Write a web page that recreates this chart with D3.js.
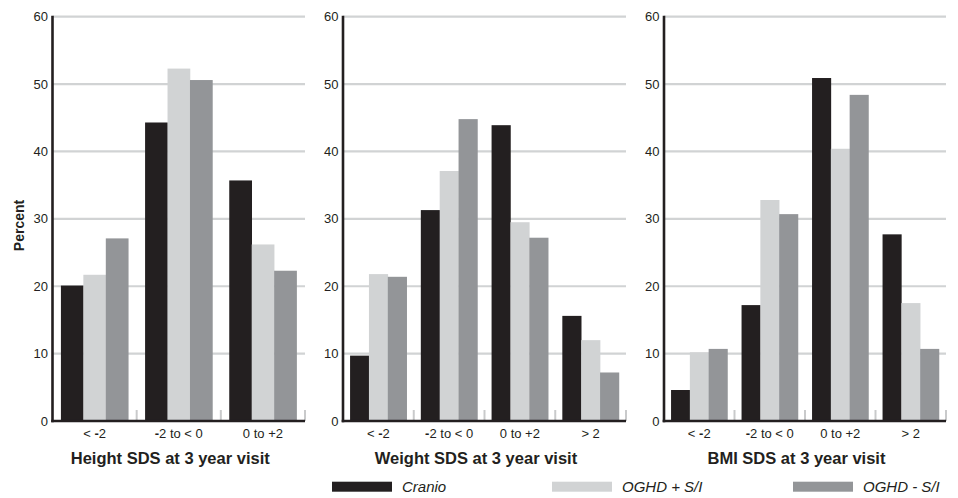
<!DOCTYPE html>
<html>
<head>
<meta charset="utf-8">
<script src="https://cdn.jsdelivr.net/npm/d3@7"></script>
<style>
  html, body { margin: 0; padding: 0; background: #fff; }
  svg { display: block; font-family: "Liberation Sans", Arial, Helvetica, sans-serif; }
</style>
</head>
<body>
<svg id="chart" width="958" height="498"></svg>
<script>
// ---------------- data ----------------
const seriesNames = ["Cranio", "OGHD + S/I", "OGHD - S/I"];

const heightCategories = ["< -2", "-2 to < 0", "0 to +2"];
const heightCranio = [20.1, 44.3, 35.7];
const heightOGHDplus = [21.7, 52.3, 26.2];
const heightOGHDminus = [27.1, 50.6, 22.3];

const weightCategories = ["< -2", "-2 to < 0", "0 to +2", "> 2"];
const weightCranio = [9.7, 31.3, 43.9, 15.6];
const weightOGHDplus = [21.8, 37.1, 29.5, 12.0];
const weightOGHDminus = [21.4, 44.8, 27.2, 7.2];

const bmiCategories = ["< -2", "-2 to < 0", "0 to +2", "> 2"];
const bmiCranio = [4.6, 17.2, 50.9, 27.7];
const bmiOGHDplus = [10.2, 32.8, 40.4, 17.5];
const bmiOGHDminus = [10.7, 30.7, 48.4, 10.7];

const panelTitles = ["Height SDS at 3 year visit", "Weight SDS at 3 year visit", "BMI SDS at 3 year visit"];
const yTickValues = [0, 10, 20, 30, 40, 50, 60];
const yAxisTitle = "Percent";

// ---------------- layout / style ----------------
const colors = ["#231f20", "#d1d3d4", "#939598"];
const gridColor = "#d1d3d4";
const axisColor = "#231f20";
const textColor = "#231f20";

const panelsLayout = [
  { left: 52.5, right: 305 },
  { left: 343, right: 626 },
  { left: 664, right: 946 }
];
const yBottom = 421, yTop = 16.7;

const panelsData = [
  { cats: heightCategories, vals: [heightCranio, heightOGHDplus, heightOGHDminus] },
  { cats: weightCategories, vals: [weightCranio, weightOGHDplus, weightOGHDminus] },
  { cats: bmiCategories, vals: [bmiCranio, bmiOGHDplus, bmiOGHDminus] }
];

const svg = d3.select("#chart");
const y = d3.scaleLinear().domain([0, 60]).range([yBottom, yTop]);

panelsData.forEach((pd, pi) => {
  const L = panelsLayout[pi];
  const g = svg.append("g");
  const x0 = d3.scaleBand().domain(pd.cats).range([L.left, L.right]).padding(0);
  const bw = x0.bandwidth();
  const x1 = d3.scaleBand().domain(seriesNames).range([bw * 0.1, bw * 0.9]).padding(0);

  // gridlines
  g.selectAll("line.grid").data(yTickValues.filter(v => v > 0)).join("line")
    .attr("x1", L.left).attr("x2", L.right)
    .attr("y1", d => y(d)).attr("y2", d => y(d))
    .attr("stroke", gridColor).attr("stroke-width", 2.2);

  // boundary ticks
  g.selectAll("line.btick").data(pd.cats).join("line")
    .attr("x1", d => x0(d) + bw).attr("x2", d => x0(d) + bw)
    .attr("y1", yBottom - 11).attr("y2", yBottom)
    .attr("stroke", "#c9cacb").attr("stroke-width", 2);

  // bars
  const rows = pd.cats.map((c, ci) => ({ cat: c, values: seriesNames.map((s, si) => ({ s, si, v: pd.vals[si][ci] })) }));
  const grp = g.selectAll("g.cat").data(rows).join("g")
    .attr("transform", d => `translate(${x0(d.cat)},0)`);
  grp.selectAll("rect").data(d => d.values).join("rect")
    .attr("x", d => x1(d.s))
    .attr("width", x1.bandwidth() + 0.3)
    .attr("y", d => y(d.v))
    .attr("height", d => y(0) - y(d.v))
    .attr("fill", d => colors[d.si]);

  // y axis line
  g.append("line").attr("x1", L.left).attr("x2", L.left)
    .attr("y1", y(60) - 1).attr("y2", yBottom + 1.2)
    .attr("stroke", axisColor).attr("stroke-width", 2.6);
  // x axis line
  g.append("line").attr("x1", L.left - 1.3).attr("x2", L.right)
    .attr("y1", yBottom).attr("y2", yBottom)
    .attr("stroke", axisColor).attr("stroke-width", 2.6);

  // y tick labels
  g.selectAll("text.ytick").data(yTickValues).join("text")
    .attr("x", L.left - 4.5).attr("y", d => y(d)).attr("dy", "0.35em")
    .attr("text-anchor", "end").attr("font-size", 13)
    .attr("fill", textColor).text(d => d);

  // category labels with bold hyphen
  const cl = g.selectAll("text.cat").data(pd.cats).join("text")
    .attr("x", d => x0(d) + bw / 2).attr("y", 438)
    .attr("text-anchor", "middle").attr("font-size", 13)
    .attr("fill", textColor);
  cl.each(function (d) {
    const t = d3.select(this);
    const parts = d.split("-");
    parts.forEach((p, i) => {
      if (i > 0) t.append("tspan").attr("font-weight", "bold").text("-");
      if (p.length) t.append("tspan").text(p);
    });
  });

  // panel title
  g.append("text")
    .attr("x", (L.left - 17 + L.right) / 2).attr("y", 464)
    .attr("text-anchor", "middle").attr("font-size", 16.5).attr("font-weight", "bold")
    .attr("fill", textColor).text(panelTitles[pi]);
});

// y axis title
svg.append("text")
  .attr("transform", "translate(23.5,225.5) rotate(-90)")
  .attr("text-anchor", "middle").attr("font-size", 14).attr("font-weight", "bold")
  .attr("fill", textColor).text(yAxisTitle);

// legend
const legendX = [332, 552, 793];
const lg = svg.selectAll("g.legend").data(seriesNames).join("g")
  .attr("transform", (d, i) => `translate(${legendX[i]},481.7)`);
lg.append("rect").attr("width", 60).attr("height", 10).attr("fill", (d, i) => colors[i]);
lg.append("text").attr("x", 70).attr("y", 10.3)
  .attr("font-size", 15).attr("font-style", "italic").attr("fill", textColor)
  .text(d => d);
</script>
</body>
</html>
